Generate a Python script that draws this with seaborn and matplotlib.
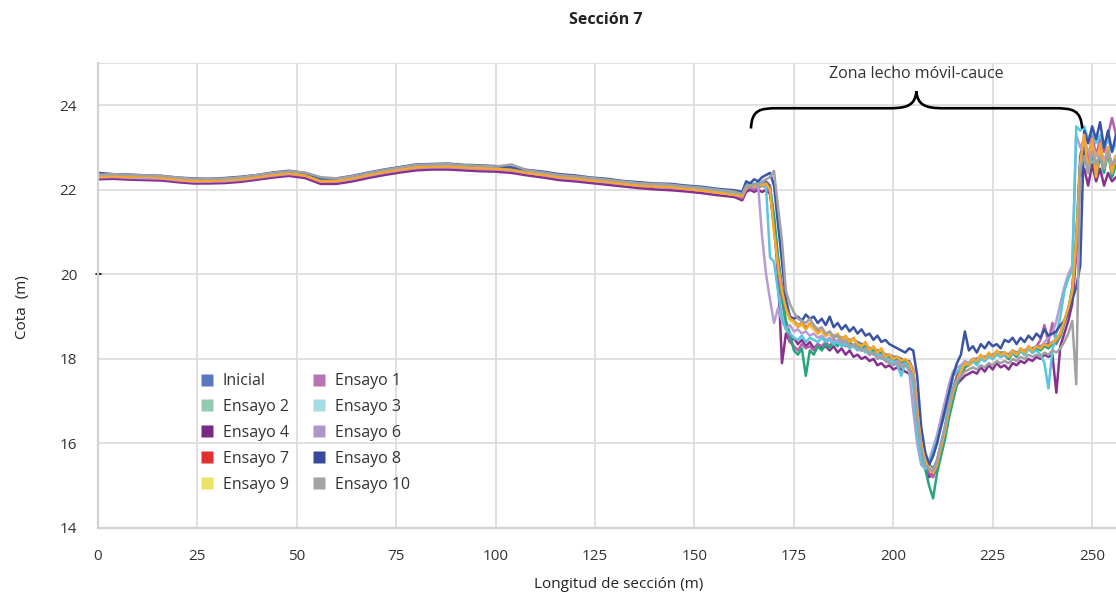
import matplotlib
matplotlib.use("Agg")
import matplotlib.pyplot as plt
from matplotlib.path import Path
from matplotlib.patches import PathPatch
from matplotlib.lines import Line2D
import pandas as pd
import seaborn as sns

# ---------------- data ----------------
longitud = list(range(0, 161, 4)) + list(range(162, 257))

inicial = [22.32,22.33,22.30,22.30,22.28,22.25,22.22,22.21,22.23,22.26,22.31,22.35,22.40,22.35,22.22,22.21,22.28,22.36,22.43,22.49,22.54,22.56,22.56,22.54,22.52,22.51,22.48,22.42,22.37,22.31,22.28,22.24,22.20,22.16,22.12,22.10,22.08,22.04,22.01,21.96,21.92,
           21.90,22.10,22.05,22.10,22.15,22.10,22.20,22.10,21.20,20.40,
           19.70,19.30,19.00,18.90,18.80,18.85,18.75,18.80,18.70,18.65,
           18.65,18.60,18.60,18.55,18.55,18.50,18.50,18.45,18.45,18.40,
           18.35,18.35,18.25,18.25,18.20,18.20,18.10,18.10,18.05,18.05,
           18.00,17.95,17.95,17.75,16.90,16.10,15.70,15.50,15.40,15.60,
           16.00,16.40,16.90,17.30,17.60,17.75,17.90,17.90,18.00,18.00,
           18.05,18.05,18.10,18.10,18.15,18.15,18.15,18.10,18.20,18.15,
           18.20,18.20,18.25,18.25,18.30,18.30,18.35,18.35,18.40,18.45,
           18.60,18.90,19.20,19.60,20.80,22.80,23.20,22.60,23.00,22.50,
           23.00,22.60,23.00,22.50,22.80]

ensayo_1 = [22.29,22.30,22.28,22.27,22.26,22.22,22.19,22.19,22.20,22.23,22.28,22.33,22.37,22.33,22.19,22.19,22.25,22.33,22.40,22.46,22.51,22.53,22.53,22.51,22.49,22.48,22.45,22.39,22.34,22.28,22.25,22.21,22.17,22.13,22.09,22.07,22.05,22.01,21.98,21.93,21.89,
            21.80,22.00,22.05,22.00,22.05,22.10,22.05,21.95,21.30,20.10,
            19.40,18.80,18.40,18.30,18.20,18.35,18.25,18.30,18.20,18.35,
            18.30,18.40,18.30,18.45,18.35,18.40,18.30,18.35,18.30,18.25,
            18.20,18.25,18.10,18.20,18.05,18.10,17.95,18.00,17.90,17.95,
            17.85,17.90,17.80,17.60,16.70,15.90,15.50,15.30,15.20,15.45,
            15.80,16.20,16.70,17.10,17.40,17.60,17.80,17.90,17.95,17.90,
            18.05,18.00,18.10,18.05,18.15,18.05,18.10,18.00,18.15,18.05,
            18.20,18.10,18.25,18.15,18.30,18.45,18.80,18.40,18.85,18.35,
            18.55,18.85,19.10,19.50,20.60,22.50,23.20,22.60,23.30,22.80,
            23.20,22.90,23.30,23.70,23.30]

ensayo_2 = [22.33,22.32,22.31,22.31,22.29,22.26,22.22,22.23,22.24,22.26,22.32,22.36,22.40,22.37,22.23,22.22,22.28,22.37,22.43,22.49,22.55,22.56,22.57,22.54,22.52,22.51,22.48,22.42,22.38,22.31,22.28,22.24,22.20,22.17,22.12,22.10,22.09,22.04,22.02,21.96,21.93,
            21.85,22.05,22.15,22.10,22.05,22.15,22.10,22.05,21.40,20.40,
            19.50,18.90,18.60,18.20,18.10,18.25,17.60,18.20,18.10,18.30,
            18.20,18.35,18.25,18.40,18.30,18.45,18.35,18.40,18.30,18.35,
            18.25,18.30,18.15,18.20,18.10,18.15,18.00,18.05,17.95,18.00,
            17.90,17.95,17.85,17.65,16.50,15.80,15.40,15.00,14.70,15.30,
            15.70,16.10,16.60,17.00,17.40,17.60,17.80,17.85,17.95,17.90,
            18.05,17.95,18.10,18.00,18.15,18.05,18.10,18.00,18.15,18.05,
            18.20,18.10,18.25,18.15,18.25,18.20,18.30,18.25,18.35,18.40,
            18.55,18.85,19.15,19.70,20.90,22.60,23.00,22.40,22.90,22.30,
            22.80,22.40,22.90,22.30,22.60]

ensayo_3 = [22.35,22.34,22.33,22.32,22.31,22.27,22.24,22.24,22.25,22.28,22.33,22.38,22.42,22.38,22.24,22.24,22.30,22.38,22.45,22.51,22.56,22.58,22.58,22.56,22.54,22.53,22.50,22.44,22.39,22.33,22.30,22.26,22.22,22.18,22.14,22.12,22.10,22.06,22.03,21.98,21.94,
            21.90,22.10,22.15,22.10,22.20,22.15,22.05,20.40,20.30,19.60,
            19.00,18.70,18.60,18.50,18.45,18.55,18.40,18.50,18.45,18.40,
            18.50,18.40,18.45,18.35,18.40,18.30,18.35,18.25,18.30,18.20,
            18.25,18.15,18.20,18.10,18.15,18.00,18.05,17.90,17.95,17.85,
            17.60,17.90,17.80,17.40,16.20,15.60,15.40,15.50,15.80,16.10,
            16.40,16.70,17.10,17.60,17.70,17.80,17.85,17.90,17.95,17.85,
            18.00,17.95,18.05,18.00,18.10,18.05,18.10,18.05,18.15,18.10,
            18.20,18.10,18.25,18.15,18.20,18.10,17.90,17.30,18.20,18.60,
            19.00,19.60,19.90,20.10,23.50,23.40,23.50,23.20,23.40,23.10,
            23.30,23.00,23.20,22.90,23.10]

ensayo_4 = [22.25,22.26,22.24,22.23,22.22,22.18,22.15,22.15,22.16,22.19,22.24,22.29,22.33,22.28,22.14,22.14,22.20,22.28,22.35,22.41,22.46,22.48,22.48,22.46,22.44,22.43,22.40,22.34,22.29,22.23,22.20,22.16,22.12,22.08,22.04,22.01,21.99,21.96,21.92,21.87,21.83,
            21.75,21.95,22.00,21.95,22.00,21.95,22.00,21.90,21.20,20.00,
            17.90,18.60,18.40,18.50,18.35,18.45,18.30,18.40,18.25,18.35,
            18.25,18.30,18.20,18.30,18.15,18.25,18.10,18.20,18.05,18.10,
            18.00,18.05,17.95,18.00,17.85,17.90,17.80,17.85,17.75,17.80,
            17.75,17.70,17.65,17.50,16.60,15.80,15.40,15.20,15.30,15.50,
            15.90,16.30,16.70,17.10,17.40,17.50,17.60,17.65,17.70,17.65,
            17.80,17.70,17.85,17.75,17.90,17.80,17.85,17.75,17.90,17.85,
            17.95,17.90,18.00,17.95,18.05,18.00,18.10,18.05,18.10,17.20,
            18.30,18.60,18.90,19.30,20.50,22.30,22.50,22.10,22.60,22.20,
            22.50,22.10,22.40,22.20,22.30]

ensayo_5 = [22.31,22.32,22.30,22.31,22.28,22.24,22.21,22.21,22.23,22.25,22.30,22.35,22.39,22.34,22.20,22.21,22.27,22.35,22.42,22.48,22.53,22.55,22.55,22.53,22.51,22.50,22.47,22.40,22.35,22.30,22.27,22.22,22.19,22.14,22.10,22.08,22.06,22.02,21.98,21.93,21.88,
            21.85,22.05,22.10,22.08,22.12,22.10,22.15,22.00,21.00,20.20,
            19.60,19.20,18.95,18.90,18.75,18.85,18.70,18.85,18.75,18.60,
            18.70,18.55,18.65,18.50,18.60,18.45,18.55,18.40,18.50,18.35,
            18.30,18.40,18.20,18.30,18.15,18.25,18.05,18.10,18.00,18.05,
            17.95,18.00,17.90,17.70,16.80,16.00,15.60,15.40,15.30,15.50,
            15.90,16.30,16.80,17.20,17.50,17.70,17.90,17.85,18.00,17.95,
            18.10,18.00,18.15,18.05,18.20,18.10,18.15,18.05,18.20,18.10,
            18.25,18.15,18.30,18.20,18.30,18.25,18.35,18.30,18.40,18.45,
            18.60,18.90,19.20,19.60,20.80,22.60,23.30,22.40,23.20,22.30,
            23.10,22.50,23.00,22.40,22.80]

ensayo_6 = [22.30,22.31,22.29,22.28,22.27,22.23,22.20,22.20,22.21,22.24,22.29,22.34,22.38,22.34,22.20,22.20,22.26,22.34,22.41,22.47,22.52,22.54,22.54,22.52,22.50,22.49,22.46,22.40,22.35,22.29,22.26,22.22,22.18,22.14,22.10,22.08,22.06,22.02,21.99,21.94,21.90,
            21.85,22.05,22.10,22.05,22.10,20.90,20.00,19.40,18.85,19.20,
            18.90,18.70,18.80,18.65,18.70,18.60,18.65,18.55,18.60,18.50,
            18.55,18.45,18.50,18.40,18.45,18.35,18.40,18.30,18.35,18.25,
            18.20,18.25,18.10,18.15,18.05,18.10,17.95,18.00,17.90,17.95,
            17.85,17.90,17.70,16.80,16.00,15.50,15.40,15.60,15.90,16.20,
            16.60,17.00,17.40,17.70,17.80,17.85,17.95,17.90,18.00,17.95,
            18.05,18.00,18.10,18.05,18.15,18.10,18.15,18.05,18.20,18.10,
            18.25,18.15,18.30,18.20,18.30,18.25,18.40,18.50,18.60,18.90,
            19.30,19.70,20.00,20.20,23.30,23.00,23.20,22.90,23.10,22.80,
            23.00,22.70,22.90,22.60,22.80]

ensayo_7 = [22.31,22.32,22.31,22.30,22.28,22.25,22.21,22.22,22.23,22.25,22.30,22.35,22.40,22.35,22.21,22.21,22.27,22.35,22.42,22.48,22.53,22.55,22.56,22.53,22.51,22.50,22.47,22.41,22.36,22.30,22.27,22.23,22.19,22.15,22.11,22.09,22.07,22.03,22.00,21.95,21.91,
            21.85,22.05,22.10,22.05,22.10,22.10,22.15,22.05,21.10,20.30,
            19.60,19.20,18.95,18.85,18.80,18.80,18.75,18.80,18.70,18.65,
            18.65,18.55,18.60,18.50,18.55,18.45,18.50,18.40,18.45,18.35,
            18.30,18.35,18.20,18.25,18.15,18.20,18.05,18.10,18.00,18.00,
            17.95,17.95,17.90,17.70,16.80,16.00,15.60,15.40,15.35,15.55,
            15.95,16.35,16.85,17.25,17.55,17.70,17.85,17.85,17.95,17.95,
            18.05,18.00,18.10,18.05,18.15,18.10,18.15,18.05,18.15,18.10,
            18.20,18.15,18.25,18.20,18.30,18.25,18.30,18.30,18.35,18.40,
            18.55,18.85,19.15,19.55,20.70,22.50,23.20,22.50,23.10,22.40,
            23.00,22.50,22.90,22.40,22.70]

ensayo_8 = [22.40,22.37,22.36,22.34,22.33,22.29,22.27,22.26,22.28,22.31,22.35,22.41,22.45,22.40,22.27,22.27,22.33,22.41,22.48,22.54,22.60,22.61,22.62,22.59,22.58,22.56,22.53,22.47,22.43,22.37,22.34,22.29,22.26,22.21,22.18,22.15,22.14,22.10,22.07,22.02,21.99,
            21.95,22.20,22.15,22.25,22.20,22.30,22.35,22.40,22.10,21.20,
            20.30,19.40,19.00,18.95,19.00,18.90,19.05,18.95,19.00,18.85,
            18.95,18.80,19.00,18.75,18.85,18.70,18.80,18.65,18.75,18.60,
            18.70,18.55,18.60,18.45,18.55,18.40,18.45,18.35,18.30,18.25,
            18.20,18.15,18.25,18.20,17.60,16.40,15.80,15.50,15.70,16.00,
            16.40,16.80,17.20,17.60,17.90,18.10,18.65,18.20,18.30,18.15,
            18.35,18.25,18.40,18.30,18.35,18.25,18.45,18.40,18.50,18.35,
            18.50,18.40,18.55,18.45,18.60,18.50,18.70,18.55,18.60,18.65,
            18.80,18.90,19.10,19.40,19.70,20.20,23.40,23.10,23.50,23.20,
            23.60,23.00,23.40,22.90,23.30]

ensayo_9 = [22.32,22.32,22.31,22.30,22.29,22.25,22.22,22.22,22.22,22.26,22.31,22.36,22.39,22.36,22.22,22.22,22.28,22.36,22.43,22.49,22.54,22.56,22.56,22.54,22.52,22.51,22.48,22.42,22.37,22.31,22.28,22.24,22.20,22.16,22.12,22.10,22.08,22.04,22.01,21.96,21.92,
            21.85,22.05,22.05,22.10,22.10,22.15,22.10,22.05,21.05,20.25,
            19.55,19.15,18.90,18.85,18.80,18.80,18.70,18.80,18.70,18.60,
            18.65,18.55,18.60,18.50,18.55,18.45,18.50,18.40,18.45,18.35,
            18.30,18.35,18.20,18.25,18.15,18.20,18.05,18.10,18.00,18.00,
            17.95,17.95,17.90,17.70,16.85,16.05,15.65,15.45,15.35,15.55,
            15.95,16.35,16.85,17.25,17.50,17.70,17.85,17.85,17.95,17.95,
            18.05,18.00,18.10,18.05,18.15,18.10,18.15,18.05,18.15,18.10,
            18.20,18.15,18.25,18.20,18.30,18.25,18.30,18.30,18.35,18.40,
            18.55,18.85,19.15,19.55,20.70,22.50,23.20,22.50,23.10,22.40,
            23.00,22.50,22.90,22.40,22.70]

ensayo_10 = [22.36,22.37,22.35,22.34,22.33,22.29,22.26,22.26,22.27,22.30,22.35,22.40,22.44,22.41,22.30,22.27,22.32,22.40,22.47,22.53,22.59,22.60,22.61,22.58,22.57,22.55,22.60,22.46,22.41,22.35,22.32,22.28,22.24,22.20,22.16,22.14,22.12,22.08,22.05,22.00,21.96,
             21.90,22.10,22.05,22.15,22.10,22.20,22.25,22.30,22.45,21.60,
             20.80,19.60,19.30,19.10,18.95,18.90,18.85,18.95,18.80,18.70,
             18.75,18.60,18.65,18.50,18.55,18.40,18.45,18.30,18.35,18.25,
             18.20,18.25,18.10,18.15,18.00,18.05,17.95,17.90,17.85,17.90,
             17.80,17.85,17.75,17.60,16.60,15.90,15.50,15.40,15.35,15.60,
             16.00,16.40,16.90,17.30,17.50,17.60,17.70,17.75,17.80,17.75,
             17.85,17.80,17.90,17.85,17.95,17.90,17.95,17.90,18.00,17.95,
             18.05,18.00,18.10,18.05,18.10,18.05,18.15,18.10,18.20,18.15,
             18.25,18.40,18.60,18.90,17.40,22.50,22.80,22.40,22.90,22.60,
             22.80,22.50,22.90,22.60,22.70]

# drawing order (first drawn = bottom)
series = {
    "Inicial": inicial,
    "Ensayo 7": ensayo_7,
    "Ensayo 9": ensayo_9,
    "Ensayo 4": ensayo_4,
    "Ensayo 1": ensayo_1,
    "Ensayo 2": ensayo_2,
    "Ensayo 6": ensayo_6,
    "Ensayo 3": ensayo_3,
    "Ensayo 8": ensayo_8,
    "Ensayo 5": ensayo_5,
    "Ensayo 10": ensayo_10,
}

colores_linea = {
    "Inicial": "#5470c6", "Ensayo 1": "#b35fac", "Ensayo 2": "#27a67b",
    "Ensayo 3": "#58c6db", "Ensayo 4": "#86318f", "Ensayo 5": "#f9a52a",
    "Ensayo 6": "#b59dd3", "Ensayo 7": "#e02b2b", "Ensayo 8": "#3a53a4",
    "Ensayo 9": "#e9e25e", "Ensayo 10": "#a1a1a5",
}

leyenda_orden = ["Inicial", "Ensayo 2", "Ensayo 4", "Ensayo 7", "Ensayo 9",
                 "Ensayo 1", "Ensayo 3", "Ensayo 6", "Ensayo 8", "Ensayo 10"]
colores_leyenda = {
    "Inicial": "#5a78c2", "Ensayo 1": "#b674b4", "Ensayo 2": "#93cbb0",
    "Ensayo 3": "#a6dbe8", "Ensayo 4": "#7a2a84", "Ensayo 6": "#b096c8",
    "Ensayo 7": "#e03030", "Ensayo 8": "#3a4a9a", "Ensayo 9": "#ebe366",
    "Ensayo 10": "#a3a3a8",
}

x_ticks = [0, 25, 50, 75, 100, 125, 150, 175, 200, 225, 250]
y_ticks = [14, 16, 18, 20, 22, 24, 25]
y_ticklabels = ["14", "16", "18", "20", "22", "24", ""]

titulo = "Sección 7"
etiqueta_x = "Longitud de sección (m)"
etiqueta_y = "Cota  (m)"
anotacion = "Zona lecho móvil-cauce"

# ---------------- build frame ----------------
frames = []
for name, vals in series.items():
    frames.append(pd.DataFrame({"x": longitud, "y": vals, "serie": name}))
df = pd.concat(frames, ignore_index=True)

# ---------------- plot ----------------
sns.set_style("white")
plt.rcParams["font.family"] = ["Open Sans", "DejaVu Sans"]

fig = plt.figure(figsize=(11.16, 5.99), dpi=100)
ax = fig.add_axes([98 / 1116, 71 / 599, 1018 / 1116, 465 / 599])

sns.lineplot(data=df, x="x", y="y", hue="serie", hue_order=list(series.keys()),
             palette=colores_linea, estimator=None, sort=False, linewidth=1.8,
             legend=False, ax=ax)

ax.set_xlim(0, 256)
ax.set_ylim(14, 25)
ax.set_xticks(x_ticks)
ax.set_yticks(y_ticks)
ax.set_yticklabels(y_ticklabels)

grid_c = "#dadada"
ax.grid(True, color=grid_c, linewidth=1.2)
ax.set_axisbelow(True)
for s in ["top", "right"]:
    ax.spines[s].set_visible(False)
for s in ["left", "bottom"]:
    ax.spines[s].set_color("#d2d2d2")
    ax.spines[s].set_linewidth(1.6)
ax.tick_params(axis="both", length=6, width=1.4, color="#d2d2d2",
               labelcolor="#333333", labelsize=11, pad=9)

ax.set_xlabel(etiqueta_x, fontsize=11, color="#222222")
ax.xaxis.set_label_coords(0.511, -0.105)
ax.set_ylabel(etiqueta_y, fontsize=11, color="#222222")
ax.yaxis.set_label_coords(-0.067, 0.475)
fig.text(606 / 1116, 1 - 20 / 599, titulo, ha="center", va="center",
         fontsize=11.5, fontweight="bold", color="#222222")

# small black tick mark at 20
ax.plot([-0.4, 0.7], [20, 20], color="black", lw=1.2, clip_on=False)

# brace annotation
brace_verts = [(164.2, 23.45),
               (164.4, 23.90), (166.5, 23.93), (171.0, 23.93),
               (199.0, 23.93),
               (203.5, 23.93), (205.5, 24.0), (205.8, 24.33),
               (206.1, 24.0), (208.1, 23.93), (212.6, 23.93),
               (240.5, 23.93),
               (245.0, 23.93), (247.2, 23.90), (247.5, 23.45)]
brace_codes = [Path.MOVETO,
               Path.CURVE4, Path.CURVE4, Path.CURVE4,
               Path.LINETO,
               Path.CURVE4, Path.CURVE4, Path.CURVE4,
               Path.CURVE4, Path.CURVE4, Path.CURVE4,
               Path.LINETO,
               Path.CURVE4, Path.CURVE4, Path.CURVE4]
ax.add_patch(PathPatch(Path(brace_verts, brace_codes), facecolor="none",
                       edgecolor="black", lw=1.9, zorder=5))
ax.text(205.8, 24.73, anotacion, ha="center", va="center", fontsize=11.5,
        color="#333333")

# legend
handles = [Line2D([0], [0], marker="s", linestyle="none", markersize=9,
                  markerfacecolor=colores_leyenda[n], markeredgecolor="none")
           for n in leyenda_orden]
leg = ax.legend(handles, leyenda_orden, ncol=2, loc="upper left",
                bbox_to_anchor=(0.1008, 0.333), frameon=False, fontsize=11.5,
                handlelength=0.8, handletextpad=0.6, columnspacing=1.5,
                labelspacing=0.62, borderpad=0, borderaxespad=0)
for t in leg.get_texts():
    t.set_color("#333333")

fig.savefig("out.png", dpi=100)
